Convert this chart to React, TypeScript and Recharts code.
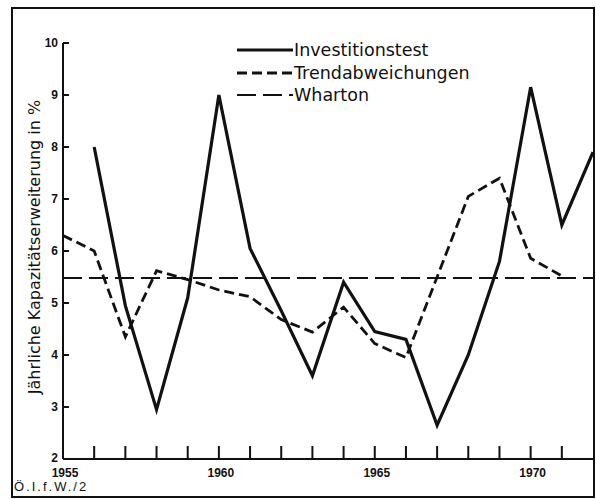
import React from "react"
import { Line, LineChart, XAxis, YAxis } from "recharts"

// Jahre 1955 bis 1972
const years = [1955, 1956, 1957, 1958, 1959, 1960, 1961, 1962, 1963, 1964, 1965, 1966, 1967, 1968, 1969, 1970, 1971, 1972]

// Investitionstest (ab 1956)
const investitionstest = [null, 8.0, 4.95, 2.95, 5.1, 9.0, 6.05, 4.85, 3.6, 5.4, 4.45, 4.3, 2.65, 4.0, 5.8, 9.15, 6.5, 7.9]

// Trendabweichungen (bis 1971)
const trendabweichungen = [6.3, 6.0, 4.35, 5.62, 5.45, 5.25, 5.12, 4.68, 4.44, 4.92, 4.22, 3.95, 5.5, 7.05, 7.4, 5.86, 5.52, null]

// Wharton-Linie
const wharton = [5.48, 5.48, 5.48, 5.48, 5.48, 5.48, 5.48, 5.48, 5.48, 5.48, 5.48, 5.48, 5.48, 5.48, 5.48, 5.48, 5.48, 5.48]

const xTicks = years.slice(0, 17)
const xLabels = [1955, 1960, 1965, 1970]
const yTicks = [2, 3, 4, 5, 6, 7, 8, 9, 10]

const series = [
  { key: "invest", name: "Investitionstest", width: 3.2, dash: undefined },
  { key: "trend", name: "Trendabweichungen", width: 2.8, dash: "10 5" },
  { key: "wharton", name: "Wharton", width: 2, dash: "19 7" },
]

const data = years.map((year, i) => ({
  year,
  invest: investitionstest[i],
  trend: trendabweichungen[i],
  wharton: wharton[i],
}))

const ink = "#111"

const XTick = (props: any) => {
  const { x, y, payload } = props
  const v = payload.value
  return (
    <g>
      {v > 1955 && <line x1={x} x2={x} y1={y} y2={y - 13} stroke={ink} strokeWidth={2} />}
      {xLabels.includes(v) && (
        <text x={x + 2} y={y + 18} textAnchor="middle" fontFamily="Liberation Sans" fontWeight="bold" fontSize={12} fill={ink}>
          {v}
        </text>
      )}
    </g>
  )
}

const YTick = (props: any) => {
  const { x, y, payload } = props
  const v = payload.value
  return (
    <g>
      <line x1={x} x2={x + 6} y1={y} y2={y} stroke={ink} strokeWidth={2} />
      <text x={x - 5} y={v === 2 ? y + 3 : y + 4} textAnchor="end" fontFamily="Liberation Sans" fontWeight="bold" fontSize={12} fill={ink}>
        {v}
      </text>
    </g>
  )
}

// Legende als Overlay, damit sie keinen Platz im Diagramm belegt
const LegendBox = () => (
  <div style={{ position: "absolute", left: 237, top: 39, fontFamily: "DejaVu Sans", fontSize: 17.5, color: ink }}>
    {series.map((s) => (
      <div key={s.key} style={{ display: "flex", alignItems: "center", height: 22.5 }}>
        <svg width={56} height={10}>
          <line x1={0} x2={56} y1={5} y2={5} stroke={ink} strokeWidth={s.width} strokeDasharray={s.dash} />
        </svg>
        <span style={{ marginLeft: 1 }}>{s.name}</span>
      </div>
    ))}
  </div>
)

export default function App() {
  return (
    <div style={{ position: "absolute", left: 0, top: 0, width: 596, height: 499, background: "#fff" }}>
      <LineChart width={596} height={499} data={data} margin={{ top: 43, right: 3, left: 13, bottom: 0 }}>
        <XAxis
          dataKey="year"
          type="number"
          domain={[1955, 1972]}
          ticks={xTicks}
          tick={<XTick />}
          tickLine={false}
          tickSize={0}
          tickMargin={0}
          height={40}
          axisLine={{ stroke: ink, strokeWidth: 2 }}
          interval={0}
        />
        <YAxis
          type="number"
          domain={[2, 10]}
          ticks={yTicks}
          tick={<YTick />}
          tickLine={false}
          tickSize={0}
          tickMargin={0}
          width={50}
          axisLine={{ stroke: ink, strokeWidth: 2 }}
          interval={0}
        />
        {series.map((s) => (
          <Line
            key={s.key}
            type="linear"
            dataKey={s.key}
            name={s.name}
            stroke={ink}
            strokeWidth={s.width}
            strokeDasharray={s.dash}
            dot={false}
            activeDot={false}
            isAnimationActive={false}
          />
        ))}
      </LineChart>
      <LegendBox />
      {/* Rahmen */}
      <div
        style={{
          position: "absolute",
          left: 11,
          top: 7,
          width: 584,
          height: 491,
          border: `2px solid ${ink}`,
          boxSizing: "border-box",
          pointerEvents: "none",
        }}
      />
      {/* Achsentitel */}
      <div
        style={{
          position: "absolute",
          left: 34,
          top: 247,
          transform: "translate(-50%, -50%) rotate(-90deg)",
          whiteSpace: "nowrap",
          fontFamily: "DejaVu Sans",
          fontSize: 16,
          color: ink,
        }}
      >
        Jährliche Kapazitätserweiterung in %
      </div>
      <div
        style={{
          position: "absolute",
          left: 14,
          top: 479,
          fontFamily: "Liberation Sans",
          fontSize: 13,
          letterSpacing: 2,
          color: ink,
        }}
      >
        Ö.I.f.W./2
      </div>
    </div>
  )
}
